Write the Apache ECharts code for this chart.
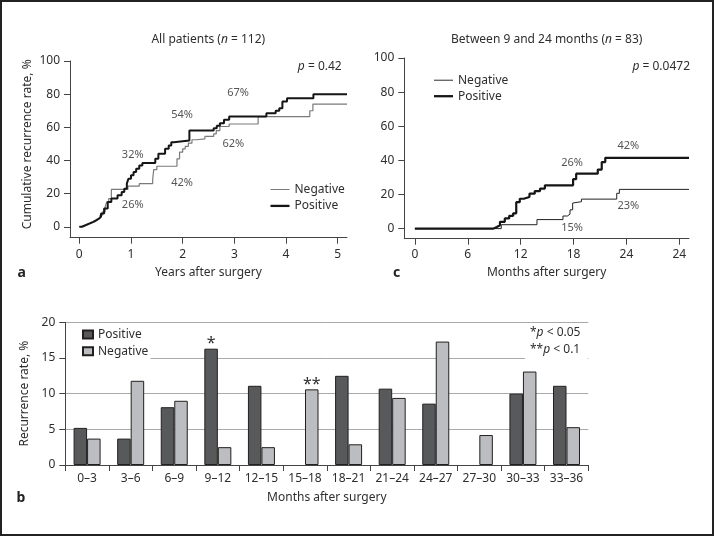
<!DOCTYPE html>
<html><head><meta charset="utf-8">
<script src="https://cdn.jsdelivr.net/npm/echarts@6/dist/echarts.min.js"></script>
<style>html,body{margin:0;padding:0;background:#fff}#c{width:714px;height:536px}</style>
</head><body><div id="c"></div>
<script>
// ---- Panel a: cumulative recurrence, all patients (years, %) ----
const aPosT = [0, 0.05, 0.12, 0.2, 0.27, 0.33, 0.38, 0.42, 0.48, 0.55, 0.62, 0.74, 0.82, 0.87, 0.92, 0.95, 1.0, 1.05, 1.1, 1.16, 1.22, 1.47, 1.53, 1.66, 1.73, 1.78, 1.83, 2.13, 2.6, 2.66, 2.72, 2.8, 2.9, 3.62, 3.8, 3.87, 3.93, 4.02, 4.53, 5.18];
const aPosV = [0, 1, 2, 3, 4, 5, 6, 8, 11, 15, 17, 19, 21, 23, 26, 29, 31, 33, 35, 37, 38.5, 41, 44, 47, 49, 51, 52, 58, 59.5, 61, 62.5, 64.5, 66.5, 68.5, 70, 71.5, 75.5, 77.5, 80, 80];
const aNegT = [0, 0.08, 0.15, 0.22, 0.3, 0.35, 0.4, 0.45, 0.5, 0.53, 0.57, 0.62, 0.94, 1.16, 1.42, 1.44, 1.5, 1.89, 1.94, 2.0, 2.05, 2.11, 2.18, 2.27, 2.43, 2.6, 2.65, 2.72, 2.9, 3.46, 4.46, 4.52, 5.18];
const aNegV = [0, 1, 2, 3, 4, 5, 7, 9, 12, 15, 17, 22.5, 24.5, 26, 28.5, 34.5, 36.5, 41, 45, 47, 48.5, 50.5, 52.5, 53, 54.5, 56, 58, 60.5, 62, 66.5, 70, 74, 74];
const aYTicks = [0, 20, 40, 60, 80, 100];
const aXTicks = [0, 1, 2, 3, 4, 5];

// ---- Panel c: between 9 and 24 months (months, %) ----
const cPosT = [0, 8.9, 9.3, 9.65, 10.2, 10.7, 11.15, 11.5, 11.9, 12.35, 13.0, 13.6, 14.2, 14.75, 17.95, 18.3, 20.75, 21.2, 21.6, 31.1];
const cPosV = [0, 1, 2, 4, 6, 7.5, 9, 15.5, 17.5, 18.5, 20.5, 22, 23.5, 25.4, 29, 32.2, 34.6, 39, 41.5, 41.5];
const cNegT = [0, 9.8, 13.85, 16.8, 17.3, 17.6, 17.9, 18.1, 18.9, 22.9, 23.2, 31.1];
const cNegV = [0, 2.3, 5.3, 7.4, 8.5, 11, 15, 15.8, 17.3, 20.7, 23, 23];
const cYTicks = [0, 20, 40, 60, 80, 100];
const cXTicks = [0, 6, 12, 18, 24, 30];
const cXLabels = ['0', '6', '12', '18', '24', '24'];

// ---- Panel b: recurrence rate per 3-month interval (%) ----
const bCategories = ['0–3', '3–6', '6–9', '9–12', '12–15', '15–18', '18–21', '21–24', '24–27', '27–30', '30–33', '33–36'];
const bPositive = [5.2, 3.7, 8.1, 16.3, 11.1, 0, 12.5, 10.7, 8.6, 0, 10.0, 11.1];
const bNegative = [3.7, 11.8, 9.0, 2.5, 2.5, 10.6, 2.9, 9.4, 17.3, 4.2, 13.1, 5.3];
const bPosMarks = ['', '', '', '*', '', '', '', '', '', '', '', ''];
const bNegMarks = ['', '', '', '', '', '**', '', '', '', '', '', ''];

const F = '"Noto Sans", sans-serif';
const TXT = '#2e2e2e';
const AX = '#444';
const pairs = (t, v) => t.map((x, i) => [x, v[i]]);
const stripName = n => n.split('|')[0];

function valAxis(extra) {
  return Object.assign({
    type: 'value',
    axisLine: { show: true, onZero: false, lineStyle: { color: AX, width: 1 } },
    axisTick: { show: true, length: 6, lineStyle: { color: AX } },
    axisLabel: { color: TXT, fontFamily: F, fontSize: 12, margin: 10 },
    splitLine: { show: false },
    nameTextStyle: { color: TXT, fontFamily: F, fontSize: 12 }
  }, extra);
}

const chart = echarts.init(document.getElementById('c'), null, { renderer: 'canvas' });

function txt(x, y, text, opt) {
  opt = opt || {};
  return {
    type: 'text', z: 20,
    style: Object.assign({
      x: x, y: y, text: text,
      font: (opt.weight || 'normal') + ' ' + (opt.size || 12) + 'px ' + F,
      fill: opt.color || TXT,
      textAlign: opt.align || 'center', align: opt.align || 'center',
      textVerticalAlign: 'middle', verticalAlign: 'middle'
    }, opt.rich ? { rich: opt.rich } : {})
  };
}
const richIt = {
  r: { fontFamily: F, fontSize: 12, fill: TXT, color: TXT },
  i: { fontFamily: F, fontSize: 12, fontStyle: 'italic', fill: TXT, color: TXT }
};
const AN = '#555';

function barData(vals, marks) {
  return vals.map((v, i) => ({
    value: v,
    itemStyle: v === 0 ? { borderWidth: 0, opacity: 0 } : undefined,
    label: { show: !!marks[i], formatter: marks[i], position: 'top', distance: -3,
             fontFamily: F, fontSize: 16, color: TXT }
  }));
}

const option = {
  animation: false,
  backgroundColor: '#fff',
  grid: [
    { left: 70, top: 61, width: 277, height: 176.7 },
    { left: 404.3, top: 58, width: 284.7, height: 180.7 },
    { left: 65.3, top: 322.3, width: 523, height: 142.7 }
  ],
  xAxis: [
    valAxis({ gridIndex: 0, min: -0.18, max: 5.18,
      name: 'Years after surgery', nameLocation: 'middle', nameGap: 29,
      axisTick: { show: true, length: 6, lineStyle: { color: AX }, customValues: aXTicks },
      axisLabel: { color: TXT, fontFamily: F, fontSize: 12, margin: 11, customValues: aXTicks } }),
    valAxis({ gridIndex: 1, min: -1.2, max: 31.1,
      name: 'Months after surgery', nameLocation: 'middle', nameGap: 28,
      axisTick: { show: true, length: 6, lineStyle: { color: AX }, customValues: cXTicks },
      axisLabel: { color: TXT, fontFamily: F, fontSize: 12, margin: 10, customValues: cXTicks,
        formatter: v => { const k = cXTicks.indexOf(v); return k >= 0 ? cXLabels[k] : ''; } } }),
    { type: 'category', gridIndex: 2, data: bCategories,
      name: 'Months after surgery', nameLocation: 'middle', nameGap: 27,
      nameTextStyle: { color: TXT, fontFamily: F, fontSize: 12 },
      axisLine: { show: true, onZero: false, lineStyle: { color: AX } },
      axisTick: { show: true, interval: 0, length: 6, lineStyle: { color: AX } },
      axisLabel: { interval: 0, color: TXT, fontFamily: F, fontSize: 12, margin: 8 } }
  ],
  yAxis: [
    valAxis({ gridIndex: 0, min: -6.6, max: 100,
      name: 'Cumulative recurrence rate, %', nameLocation: 'middle', nameGap: 36,
      nameTextStyle: { color: TXT, fontFamily: F, fontSize: 12, padding: [0, 0, 0, 10] },
      axisTick: { show: true, length: 6, lineStyle: { color: AX }, customValues: aYTicks },
      axisLabel: { color: TXT, fontFamily: F, fontSize: 12, margin: 10, customValues: aYTicks } }),
    valAxis({ gridIndex: 1, min: -5.9, max: 100,
      axisTick: { show: true, length: 6, lineStyle: { color: AX }, customValues: cYTicks },
      axisLabel: { color: TXT, fontFamily: F, fontSize: 12, margin: 10, customValues: cYTicks } }),
    valAxis({ gridIndex: 2, min: 0, max: 20, interval: 5,
      name: 'Recurrence rate, %', nameLocation: 'middle', nameGap: 33,
      splitLine: { show: true, lineStyle: { color: '#aaa', width: 1 } } })
  ],
  legend: [
    { orient: 'vertical', left: 265.5, top: 178.5, itemWidth: 19, itemHeight: 10, itemGap: 4.4,
      selectedMode: false, formatter: stripName,
      textStyle: { color: TXT, fontFamily: F, fontSize: 12 },
      data: [ { name: 'Negative|a', icon: 'path://M0,0H20V1.1H0Z' },
              { name: 'Positive|a', icon: 'path://M0,0H20V2.4H0Z' } ] },
    { orient: 'vertical', left: 429, top: 69.2, itemWidth: 19, itemHeight: 10, itemGap: 4,
      selectedMode: false, formatter: stripName,
      textStyle: { color: TXT, fontFamily: F, fontSize: 12 },
      data: [ { name: 'Negative|c', icon: 'path://M0,0H20V1H0Z' },
              { name: 'Positive|c', icon: 'path://M0,0H20V2.4H0Z' } ] },
    { orient: 'vertical', left: 77, top: 323.5, itemWidth: 10, itemHeight: 8, itemGap: 4.7,
      selectedMode: false, formatter: stripName, icon: 'rect',
      textStyle: { color: TXT, fontFamily: F, fontSize: 12 },
      data: ['Positive|b', 'Negative|b'] }
  ],
  series: [
    { name: 'Negative|a', type: 'line', xAxisIndex: 0, yAxisIndex: 0, step: 'end', symbol: 'none',
      color: '#7a7a7a', lineStyle: { color: '#7a7a7a', width: 1.2 }, data: pairs(aNegT, aNegV), z: 2 },
    { name: 'Positive|a', type: 'line', xAxisIndex: 0, yAxisIndex: 0, step: 'end', symbol: 'none',
      color: '#151515', lineStyle: { color: '#151515', width: 2 }, data: pairs(aPosT, aPosV), z: 3 },
    { name: 'Negative|c', type: 'line', xAxisIndex: 1, yAxisIndex: 1, step: 'end', symbol: 'none',
      color: '#222', lineStyle: { color: '#222', width: 1 }, data: pairs(cNegT, cNegV), z: 2 },
    { name: 'Positive|c', type: 'line', xAxisIndex: 1, yAxisIndex: 1, step: 'end', symbol: 'none',
      color: '#151515', lineStyle: { color: '#151515', width: 2.2 }, data: pairs(cPosT, cPosV), z: 3 },
    { name: 'Positive|b', type: 'bar', xAxisIndex: 2, yAxisIndex: 2, barWidth: 13.5, barGap: '0%',
      itemStyle: { color: '#58595b', borderColor: '#231f20', borderWidth: 1 },
      data: barData(bPositive, bPosMarks) },
    { name: 'Negative|b', type: 'bar', xAxisIndex: 2, yAxisIndex: 2, barWidth: 13.5,
      itemStyle: { color: '#bcbdc0', borderColor: '#231f20', borderWidth: 1 },
      data: barData(bNegative, bNegMarks) }
  ],
  graphic: [
    // white masks that interrupt the 15% grid line behind legend and note
    { type: 'rect', z: 1, shape: { x: 66, y: 354, width: 84.5, height: 8 }, style: { fill: '#fff' } },
    { type: 'rect', z: 1, shape: { x: 525, y: 354, width: 62.5, height: 8 }, style: { fill: '#fff' } },
    txt(208.3, 40, '{r|All patients (}{i|n}{r| = 112)}', { rich: richIt }),
    txt(546.7, 40, '{r|Between 9 and 24 months (}{i|n}{r| = 83)}', { rich: richIt }),
    txt(341.7, 67, '{i|p}{r| = 0.42}', { rich: richIt, align: 'right' }),
    txt(690, 67, '{i|p}{r| = 0.0472}', { rich: richIt, align: 'right' }),
    txt(238, 93.3, '67%', { size: 11, color: AN }),
    txt(182, 115, '54%', { size: 11, color: AN }),
    txt(233.3, 144, '62%', { size: 11, color: AN }),
    txt(132.7, 155, '32%', { size: 11, color: AN }),
    txt(182, 182.7, '42%', { size: 11, color: AN }),
    txt(132.7, 205, '26%', { size: 11, color: AN }),
    txt(628.3, 146, '42%', { size: 11, color: AN }),
    txt(572, 162.7, '26%', { size: 11, color: AN }),
    txt(628.3, 205.7, '23%', { size: 11, color: AN }),
    txt(572, 228.3, '15%', { size: 11, color: AN }),
    txt(530, 332.7, '{r|*}{i|p}{r| < 0.05}', { rich: richIt, align: 'left' }),
    txt(530, 349.3, '{r|**}{i|p}{r| < 0.1}', { rich: richIt, align: 'left' }),
    txt(21.7, 272.7, 'a', { weight: 'bold', size: 14, color: '#222' }),
    txt(396.7, 272.7, 'c', { weight: 'bold', size: 14, color: '#222' }),
    txt(21, 498.3, 'b', { weight: 'bold', size: 14, color: '#222' }),
    { type: 'rect', z: 30, shape: { x: 1, y: 1, width: 712, height: 534 },
      style: { fill: 'none', stroke: '#222', lineWidth: 2 } }
  ]
};
chart.setOption(option);
</script>
</body></html>
